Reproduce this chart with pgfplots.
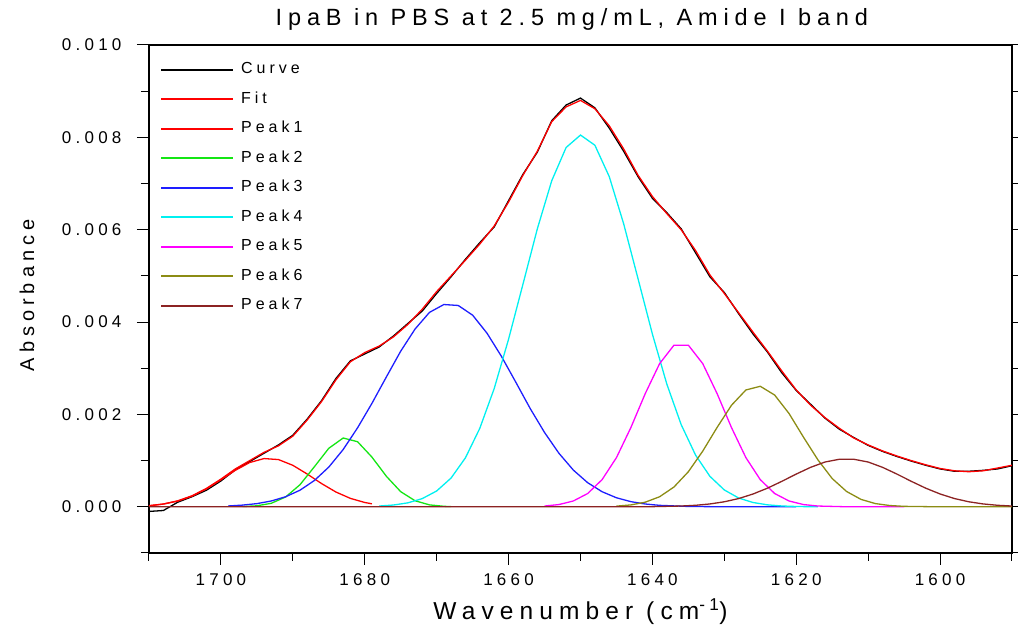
\documentclass[border=0pt]{standalone}
\usepackage{pgfplots}
\pgfplotsset{compat=1.18}
\usepackage{fontspec}
\setmainfont[LetterSpace=25]{Liberation Sans}
\definecolor{cfit}{RGB}{255,0,0}
\definecolor{cp2}{RGB}{20,230,20}
\definecolor{cp3}{RGB}{30,30,255}
\definecolor{cp4}{RGB}{0,240,240}
\definecolor{cp5}{RGB}{255,0,255}
\definecolor{cp6}{RGB}{140,140,20}
\definecolor{cp7}{RGB}{140,35,35}

\begin{document}
\begin{tikzpicture}
\useasboundingbox (-149pt,-81pt) rectangle (869pt,553pt);
\begin{axis}[
  scale only axis, width=863pt, height=508pt,
  x dir=reverse,
  xmin=1590, xmax=1710, ymin=-0.001, ymax=0.010,
  xtick={1600,1620,...,1700},
  minor xtick={1590,1610,...,1710},
  ytick={0,0.002,...,0.0101},
  minor ytick={-0.001,0.001,0.003,0.005,0.007,0.009},
  xtick pos=bottom, ytick pos=both,
  tick align=outside,
  major tick length=12pt, minor tick length=8pt,
  every tick/.style={black, line width=1pt},
  axis line style={line width=1.2pt},
  scaled y ticks=false,
  x tick label style={/pgf/number format/1000 sep={}, yshift=-5pt},
  y tick label style={/pgf/number format/.cd, fixed, fixed zerofill, precision=3, /tikz/xshift=-12pt},
  /pgf/number format/assume math mode=true,
  tick label style={font=\fontsize{17}{20}\selectfont},
  title={IpaB in PBS at 2.5 mg/mL, Amide I band},
  title style={at={(axis description cs:0.49,1.039)}, anchor=center, font=\fontsize{23.5}{28}\selectfont},
  xlabel={Wavenumber (cm\textsuperscript{-1})},
  xlabel style={at={(axis description cs:0.5,-0.116)}, anchor=center, font=\fontsize{24.5}{28}\selectfont},
  ylabel={Absorbance},
  ylabel style={at={(axis description cs:-0.1414,0.507)}, anchor=center, font=\fontsize{20}{24}\selectfont},
  legend image code/.code={\draw[#1, line width=2pt] (0pt,0pt) -- (72pt,0pt);},
  legend cell align=left,
  legend style={at={(axis description cs:0,1)}, anchor=north west, xshift=8pt, yshift=-13.5pt,
    draw=none, fill=none, font=\fontsize{16}{19}\selectfont, row sep=11.5pt, column sep=5pt,
    nodes={text height=11pt, text depth=3pt, inner sep=2pt}},
  every axis plot/.append style={line width=1.3pt},
]
% Curve (measured)
\addplot[black] coordinates {
(1710,-0.00010)(1708,-0.00008)(1706,0.00010)(1704,0.00022)(1702,0.00036)(1700,0.00056)
(1698,0.00080)(1696,0.00098)(1694,0.00116)(1692,0.00134)(1690,0.00155)(1688,0.00190)
(1686,0.00230)(1684,0.00278)(1682,0.00316)(1680,0.00331)(1678,0.00346)(1676,0.00370)
(1674,0.00397)(1672,0.00424)(1670,0.00462)(1668,0.00498)(1666,0.00536)(1664,0.00572)
(1662,0.00606)(1660,0.00663)(1658,0.00720)(1656,0.00768)(1654,0.00836)(1652,0.00870)
(1650,0.00885)(1648,0.00864)(1646,0.00820)(1644,0.00770)(1642,0.00715)(1640,0.00668)
(1638,0.00637)(1636,0.00602)(1634,0.00550)(1632,0.00498)(1630,0.00464)(1628,0.00418)
(1626,0.00374)(1624,0.00335)(1622,0.00290)(1620,0.00252)(1618,0.00222)(1616,0.00192)
(1614,0.00168)(1612,0.00150)(1610,0.00133)(1608,0.00120)(1606,0.00109)(1604,0.00099)
(1602,0.00090)(1600,0.00082)(1598,0.00077)(1596,0.00077)(1594,0.00079)(1592,0.00082)
(1590,0.00089)};
% Fit
\addplot[cfit] coordinates {
(1710,0.00002)(1708,0.00006)(1706,0.00013)(1704,0.00024)(1702,0.00040)(1700,0.00060)
(1698,0.00082)(1696,0.00100)(1694,0.00118)(1692,0.00132)(1690,0.00153)(1688,0.00188)
(1686,0.00228)(1684,0.00275)(1682,0.00314)(1680,0.00334)(1678,0.00348)(1676,0.00368)
(1674,0.00395)(1672,0.00428)(1670,0.00466)(1668,0.00500)(1666,0.00534)(1664,0.00569)
(1662,0.00608)(1660,0.00660)(1658,0.00718)(1656,0.00770)(1654,0.00834)(1652,0.00866)
(1650,0.00880)(1648,0.00862)(1646,0.00825)(1644,0.00775)(1642,0.00718)(1640,0.00672)
(1638,0.00635)(1636,0.00600)(1634,0.00555)(1632,0.00502)(1630,0.00462)(1628,0.00420)
(1626,0.00378)(1624,0.00337)(1622,0.00294)(1620,0.00253)(1618,0.00220)(1616,0.00193)
(1614,0.00170)(1612,0.00149)(1610,0.00134)(1608,0.00121)(1606,0.00110)(1604,0.00100)
(1602,0.00091)(1600,0.00083)(1598,0.00078)(1596,0.00076)(1594,0.00078)(1592,0.00084)
(1590,0.00090)};
% Peak1
\addplot[cfit] coordinates {
(1710,0.000026)(1708,0.00006)(1706,0.000124)(1704,0.000232)(1702,0.000389)(1700,0.000584)
(1698,0.00079)(1696,0.000959)(1694,0.001045)(1692,0.001023)(1690,0.000899)(1688,0.00071)
(1686,0.000503)(1684,0.00032)(1682,0.000183)(1680,0.000094)(1679,0.000065)};
% Peak2
\addplot[cp2] coordinates {
(1697,0.000005)(1695,0.000022)(1693,0.000076)(1691,0.000213)(1689,0.000479)(1687,0.000868)
(1685,0.001267)(1683,0.00149)(1681,0.00141)(1679,0.001077)(1677,0.000662)(1675,0.000328)
(1673,0.000131)(1671,0.000042)(1669,0.000011)(1668,0.000005)};
% Peak3
\addplot[cp3] coordinates {
(1699,0.000018)(1697,0.000037)(1695,0.000069)(1693,0.000126)(1691,0.000218)(1689,0.00036)
(1687,0.00057)(1685,0.00086)(1683,0.00124)(1681,0.00171)(1679,0.00224)(1677,0.00281)
(1675,0.00337)(1673,0.00385)(1671,0.00421)(1669,0.00438)(1667,0.00436)(1665,0.00415)
(1663,0.00376)(1661,0.00326)(1659,0.00270)(1657,0.00213)(1655,0.00161)(1653,0.00116)
(1651,0.000796)(1649,0.000522)(1647,0.000327)(1645,0.000196)(1643,0.000112)(1641,0.000061)
(1639,0.000032)(1635,0.0000075)(1630,0.000001)(1620,0)};
% Peak4
\addplot[cp4] coordinates {
(1678,0.000017)(1676,0.000039)(1674,0.000086)(1672,0.000178)(1670,0.000343)(1668,0.000622)
(1666,0.00106)(1664,0.00170)(1662,0.00256)(1660,0.00363)(1658,0.00482)(1656,0.00602)
(1654,0.00706)(1652,0.00778)(1650,0.00805)(1648,0.00783)(1646,0.00715)(1644,0.00613)
(1642,0.00494)(1640,0.00374)(1638,0.00266)(1636,0.00178)(1634,0.00112)(1632,0.000659)
(1630,0.000365)(1628,0.00019)(1626,0.000093)(1624,0.000043)(1622,0.000018)(1620,0.000007)
(1617,0)};
% Peak5
\addplot[cp5] coordinates {
(1655,0.000017)(1653,0.000049)(1651,0.000126)(1649,0.000288)(1647,0.000588)(1645,0.001065)
(1643,0.001714)(1641,0.00245)(1639,0.00310)(1637,0.00350)(1635,0.00350)(1633,0.00310)
(1631,0.00245)(1629,0.001714)(1627,0.001065)(1625,0.000588)(1623,0.000288)(1621,0.000126)
(1619,0.000049)(1617,0.000017)(1613,0.000001)(1605,0)};
% Peak6
\addplot[cp6] coordinates {
(1645,0.000015)(1643,0.000041)(1641,0.00010)(1639,0.000218)(1637,0.000429)(1635,0.00076)
(1633,0.001206)(1631,0.00172)(1629,0.00220)(1627,0.00253)(1625,0.00261)(1623,0.00242)
(1621,0.00202)(1619,0.00151)(1617,0.00102)(1615,0.000612)(1613,0.000332)(1611,0.000161)
(1609,0.00007)(1607,0.000028)(1605,0.00001)(1600,0)(1590,0)};
% Peak7
\addplot[cp7] coordinates {
(1710,0)(1640,0.0000035)(1636,0.000017)(1634,0.000033)(1632,0.000062)(1630,0.000109)
(1628,0.000179)(1626,0.000278)(1624,0.000404)(1622,0.000552)(1620,0.000709)(1618,0.000855)
(1616,0.00097)(1614,0.00103)(1612,0.00103)(1610,0.00097)(1608,0.000855)(1606,0.000709)
(1604,0.000552)(1602,0.000404)(1600,0.000278)(1598,0.000179)(1596,0.000109)(1594,0.000062)
(1592,0.000033)(1590,0.000017)};
\legend{Curve, Fit, Peak1, Peak2, Peak3, Peak4, Peak5, Peak6, Peak7}
\end{axis}
\end{tikzpicture}
\end{document}
